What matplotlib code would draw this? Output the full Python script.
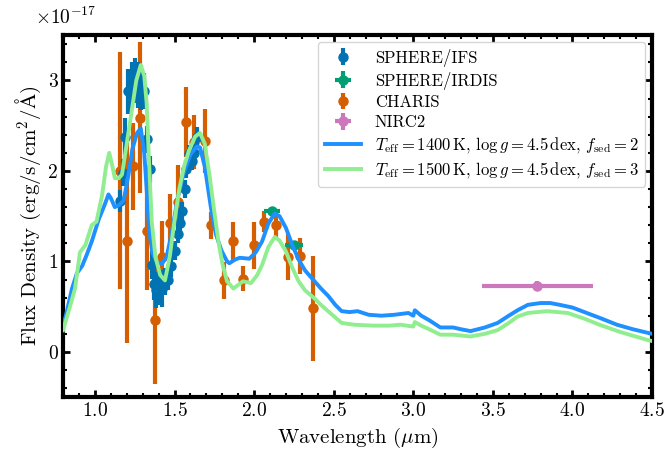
import numpy as np
import matplotlib
matplotlib.use('Agg')
import matplotlib.pyplot as plt
from matplotlib.ticker import MultipleLocator, FuncFormatter

plt.rcParams['font.family'] = 'serif'
plt.rcParams['font.serif'] = ['cmr10']
plt.rcParams['mathtext.fontset'] = 'cm'
plt.rcParams['axes.formatter.use_mathtext'] = True
plt.rcParams['axes.unicode_minus'] = False

# data in units of 1e-17 erg/s/cm2/A
ifs_wl = [1.155, 1.175, 1.19, 1.21, 1.23, 1.25, 1.27, 1.29, 1.31, 1.33, 1.345,
          1.357, 1.37, 1.385, 1.40, 1.42, 1.44, 1.46, 1.48, 1.50, 1.52, 1.535,
          1.545, 1.565, 1.575, 1.59, 1.61, 1.625, 1.64]
ifs_flux = [1.67, 1.98, 2.38, 2.88, 2.95, 3.00, 2.95, 2.92, 2.88, 2.35, 2.02,
            0.96, 0.75, 0.68, 0.72, 0.70, 0.78, 0.80, 0.95, 1.12, 1.30, 1.42,
            1.56, 1.80, 2.02, 2.19, 2.11, 2.20, 2.38]
ifs_err = [0.12, 0.15, 0.2, 0.25, 0.25, 0.25, 0.25, 0.25, 0.2, 0.15, 0.15,
           0.15, 0.18, 0.2, 0.2, 0.2, 0.15, 0.12, 0.12, 0.1, 0.1, 0.1,
           0.1, 0.1, 0.1, 0.1, 0.1, 0.1, 0.1]

irdis_wl = [2.11, 2.25]
irdis_flux = [1.56, 1.18]
irdis_xerr = [0.05, 0.055]
irdis_err = [0.04, 0.04]

charis_wl = [1.155, 1.20, 1.24, 1.285, 1.325, 1.375, 1.42, 1.47, 1.525, 1.575,
             1.625, 1.69, 1.73, 1.81, 1.87, 1.93, 2.00, 2.06, 2.14, 2.21, 2.29, 2.37]
charis_flux = [2.00, 1.23, 2.05, 2.59, 1.34, 0.35, 1.05, 1.42, 1.66, 2.54,
               2.32, 2.33, 1.40, 0.79, 1.23, 0.81, 1.18, 1.44, 1.40, 1.05, 1.06, 0.48]
charis_err = [1.31, 1.13, 0.48, 0.83, 0.66, 0.70, 0.40, 0.32, 0.40, 0.39,
              0.30, 0.35, 0.15, 0.20, 0.21, 0.14, 0.26, 0.12, 0.16, 0.25, 0.20, 0.58]

nirc2_wl = [3.78]
nirc2_flux = [0.73]
nirc2_xerr = [0.35]
nirc2_err = [0.05]

mod1_wl = [0.80, 0.82, 0.856, 0.887, 0.92, 0.95, 0.98, 1.025, 1.06, 1.085, 1.10,
           1.125, 1.15, 1.18, 1.21, 1.235, 1.265, 1.288, 1.31, 1.325, 1.34, 1.36,
           1.39, 1.42, 1.45, 1.48, 1.52, 1.56, 1.60, 1.64, 1.66, 1.69, 1.73, 1.76,
           1.795, 1.83, 1.845, 1.88, 1.91, 1.97, 2.01, 2.05, 2.09, 2.13, 2.16, 2.20,
           2.24, 2.28, 2.32, 2.38, 2.42, 2.465, 2.51, 2.55, 2.60, 2.65, 2.72, 2.80,
           2.88, 2.97, 3.00, 3.01, 3.05, 3.10, 3.17, 3.25, 3.30, 3.36, 3.45, 3.53,
           3.60, 3.655, 3.72, 3.80, 3.86, 3.92, 4.00, 4.09, 4.18, 4.28, 4.38, 4.475, 4.50]
mod1_flux = [0.28, 0.42, 0.70, 0.87, 0.95, 1.08, 1.22, 1.47, 1.62, 1.74, 1.70,
             1.60, 1.62, 1.67, 1.95, 2.24, 2.42, 2.47, 2.20, 1.80, 1.36, 1.10,
             0.99, 0.97, 1.05, 1.29, 1.70, 1.99, 2.18, 2.27, 2.26, 2.05, 1.58, 1.30,
             1.12, 1.00, 0.98, 1.02, 1.04, 1.03, 1.10, 1.22, 1.42, 1.53, 1.50, 1.37,
             1.18, 1.02, 0.90, 0.78, 0.70, 0.62, 0.52, 0.45, 0.44, 0.45, 0.41, 0.40,
             0.41, 0.43, 0.40, 0.46, 0.40, 0.35, 0.27, 0.27, 0.25, 0.23, 0.27, 0.32,
             0.40, 0.46, 0.52, 0.54, 0.54, 0.52, 0.49, 0.43, 0.37, 0.30, 0.25, 0.21, 0.20]

mod2_wl = [0.80, 0.84, 0.875, 0.906, 0.94, 0.98, 1.01, 1.045, 1.07, 1.09, 1.11,
           1.125, 1.15, 1.17, 1.20, 1.23, 1.26, 1.288, 1.31, 1.325, 1.34, 1.357,
           1.38, 1.41, 1.44, 1.47, 1.50, 1.53, 1.56, 1.59, 1.63, 1.66, 1.69, 1.72,
           1.75, 1.776, 1.80, 1.83, 1.87, 1.90, 1.93, 1.98, 2.02, 2.05, 2.09, 2.13,
           2.16, 2.20, 2.24, 2.28, 2.32, 2.38, 2.42, 2.465, 2.51, 2.55, 2.63, 2.75,
           2.85, 2.92, 3.00, 3.01, 3.05, 3.10, 3.17, 3.25, 3.36, 3.45, 3.53, 3.60,
           3.655, 3.72, 3.84, 3.97, 4.07, 4.17, 4.30, 4.475, 4.50]
mod2_flux = [0.24, 0.48, 0.70, 1.10, 1.18, 1.40, 1.44, 1.73, 2.05, 2.20, 2.05,
             1.92, 1.92, 1.96, 2.30, 2.65, 3.00, 3.17, 3.05, 2.75, 2.10, 1.44,
             1.05, 0.85, 0.79, 1.05, 1.45, 1.80, 2.05, 2.22, 2.38, 2.42, 2.30, 1.95,
             1.55, 1.22, 0.98, 0.78, 0.70, 0.74, 0.78, 0.76, 0.85, 0.96, 1.16, 1.27,
             1.23, 1.11, 0.93, 0.78, 0.68, 0.59, 0.52, 0.45, 0.38, 0.32, 0.30, 0.29,
             0.29, 0.30, 0.28, 0.33, 0.29, 0.25, 0.19, 0.19, 0.17, 0.20, 0.24, 0.32,
             0.39, 0.43, 0.45, 0.43, 0.37, 0.30, 0.22, 0.13, 0.12]

labels_mod = [r'$T_\mathrm{eff}=1400\,\mathrm{K},\,\log g=4.5\,\mathrm{dex},\,f_\mathrm{sed}=2$',
              r'$T_\mathrm{eff}=1500\,\mathrm{K},\,\log g=4.5\,\mathrm{dex},\,f_\mathrm{sed}=3$']

s = 1e-17
cols = ['#0173b2', '#029e73', '#d55e00', '#cc78bc']

fig = plt.figure(figsize=(6.64, 4.57), dpi=100)
ax = fig.add_axes([0.095, 0.131, 0.887, 0.792])

kw = dict(fmt='o', ms=6.5, elinewidth=3, capsize=0)
h1 = ax.errorbar(ifs_wl, np.array(ifs_flux) * s, yerr=np.array(ifs_err) * s,
                 color=cols[0], label='SPHERE/IFS', zorder=3, **kw)
h2 = ax.errorbar(irdis_wl, np.array(irdis_flux) * s, yerr=np.array(irdis_err) * s,
                 xerr=irdis_xerr, color=cols[1], label='SPHERE/IRDIS', zorder=3, **kw)
h3 = ax.errorbar(charis_wl, np.array(charis_flux) * s, yerr=np.array(charis_err) * s,
                 color=cols[2], label='CHARIS', zorder=2, **kw)
h4 = ax.errorbar(nirc2_wl, np.array(nirc2_flux) * s, yerr=np.array(nirc2_err) * s,
                 xerr=nirc2_xerr, color=cols[3], label='NIRC2', zorder=3, **kw)

l1, = ax.plot(mod1_wl, np.array(mod1_flux) * s, color='#1e90ff', lw=2.8,
              label=labels_mod[0], zorder=4)
l2, = ax.plot(mod2_wl, np.array(mod2_flux) * s, color='#90ee90', lw=2.8,
              label=labels_mod[1], zorder=4)

ax.set_xlim(0.8, 4.5)
ax.set_ylim(-0.5 * s, 3.5 * s)
ax.xaxis.set_major_locator(MultipleLocator(0.5))
ax.xaxis.set_minor_locator(MultipleLocator(0.1))
ax.yaxis.set_major_locator(MultipleLocator(1e-17))
ax.yaxis.set_minor_locator(MultipleLocator(0.2e-17))
# tick labels in units of 1e-17, multiplier written by hand
ax.yaxis.set_major_formatter(FuncFormatter(lambda v, pos: '%d' % round(v / s)))
fig.text(0.053, 0.985, r'$\times10^{-17}$', fontsize=14, ha='left', va='top')

ax.tick_params(which='both', direction='in', top=True, right=True, labelsize=14)
ax.tick_params(which='major', length=5, width=2)
ax.tick_params(which='minor', length=3, width=1.5)
for sp in ax.spines.values():
    sp.set_linewidth(3)

ax.set_xlabel(r'Wavelength ($\mu$m)', fontsize=15)
ax.set_ylabel(r'Flux Density (erg/s/cm$^2$/$\mathrm{\AA}$)', fontsize=15)

ax.legend(handles=[h1, h2, h3, h4, l1, l2], loc='upper right', fontsize=12,
          labelspacing=0.3, handlelength=2.2, handletextpad=0.8,
          borderaxespad=0.4)

fig.savefig('out.png', dpi=100)
